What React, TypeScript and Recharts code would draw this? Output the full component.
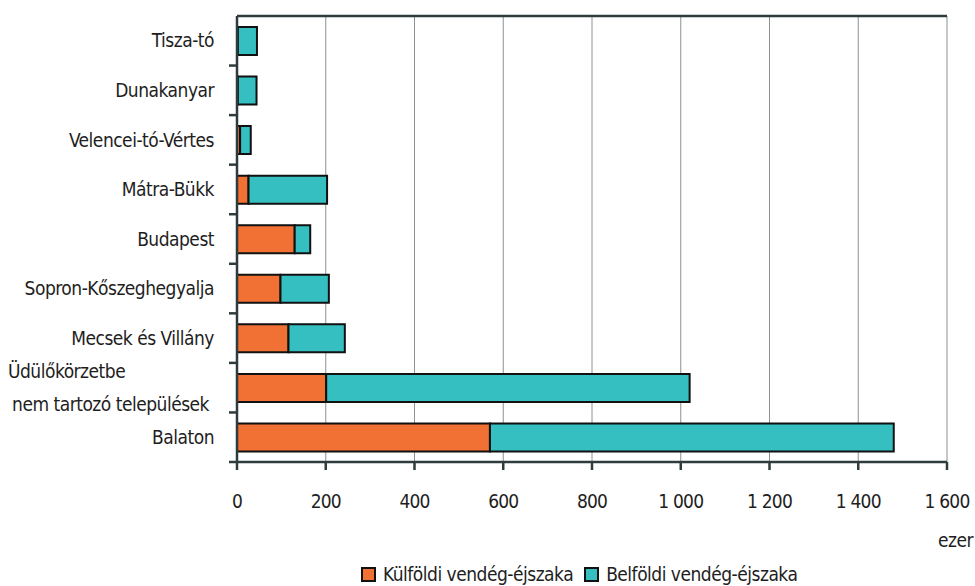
import {
  BarChart,
  Bar,
  XAxis,
  YAxis,
  CartesianGrid,
  Legend,
} from "recharts";

const FONT = "'Liberation Sans Narrow', 'Arial Narrow', 'DejaVu Sans Condensed', sans-serif";

// categories, top to bottom
const regions = [
  "Tisza-tó",
  "Dunakanyar",
  "Velencei-tó-Vértes",
  "Mátra-Bükk",
  "Budapest",
  "Sopron-Kőszeghegyalja",
  "Mecsek és Villány",
  "Üdülőkörzetbe nem tartozó települések",
  "Balaton",
];

// ezer vendégéjszaka
const kulfoldi = [2, 2, 7, 26, 130, 98, 116, 201, 570];
const belfoldi = [43, 42, 24, 177, 35, 109, 127, 819, 910];

const xTicks = [0, 200, 400, 600, 800, 1000, 1200, 1400, 1600];

const data = regions.map((name, i) => ({
  name,
  kulfoldi: kulfoldi[i],
  belfoldi: belfoldi[i],
}));

const ORANGE = "#F07133";
const TEAL = "#35BFC1";
const AXIS = "#2E3C3C";
const TEXT = "#1E1E1E";
const FS = 19;
const LS = -0.5;

const BAND = 446 / regions.length;

function CategoryTick(props: any) {
  const { x, y, payload } = props;
  const label: string = payload.value;
  const tickLine = (
    <line x1={x + 14} x2={x + 22} y1={y + BAND / 2} y2={y + BAND / 2} stroke={AXIS} strokeWidth={2.5} />
  );
  const common = { fontSize: FS, fill: TEXT, fontFamily: FONT, letterSpacing: LS };
  if (label.startsWith("Üdülő")) {
    return (
      <g>
        {tickLine}
        <text x={8} y={y - 16} dy="0.35em" textAnchor="start" {...common}>
          Üdülőkörzetbe
        </text>
        <text x={x - 6} y={y + 17} dy="0.35em" textAnchor="end" {...common}>
          nem tartozó települések
        </text>
      </g>
    );
  }
  return (
    <g>
      {tickLine}
      <text x={x - 1} y={y} dy="0.35em" textAnchor="end" {...common}>
        {label}
      </text>
    </g>
  );
}

const fmt = (v: number) => String(v).replace(/\B(?=(\d{3})+(?!\d))/g, " ");

function LegendContent() {
  const items = [
    { label: "Külföldi vendég-éjszaka", color: ORANGE },
    { label: "Belföldi vendég-éjszaka", color: TEAL },
  ];
  return (
    <div
      style={{
        display: "flex",
        alignItems: "center",
        height: 24,
        fontFamily: FONT,
        fontSize: FS,
        letterSpacing: LS,
        color: TEXT,
        paddingLeft: 361,
      }}
    >
      {items.map((it) => (
        <span key={it.label} style={{ display: "flex", alignItems: "center", marginRight: 11 }}>
          <span
            style={{
              width: 11,
              height: 11,
              background: it.color,
              border: "2px solid #111",
              marginRight: 7,
              display: "inline-block",
            }}
          />
          {it.label}
        </span>
      ))}
    </div>
  );
}

export default function App() {
  return (
    <div style={{ position: "absolute", left: 0, top: 0, background: "#fff" }}>
      <BarChart
        width={975}
        height={586}
        data={data}
        layout="vertical"
        margin={{ top: 15, right: 28, left: 0, bottom: 0 }}
        barSize={28}
      >
        <CartesianGrid horizontal={false} stroke="#8A9292" strokeWidth={1} />
        <XAxis
          type="number"
          domain={[0, 1600]}
          ticks={xTicks}
          tickFormatter={fmt}
          height={100}
          axisLine={{ stroke: AXIS, strokeWidth: 2.5 }}
          tickLine={{ stroke: AXIS, strokeWidth: 2.5 }}
          tickSize={8}
          tickMargin={25}
          tick={{ fontSize: FS, fill: TEXT, fontFamily: FONT, letterSpacing: -0.8 }}
          interval={0}
          label={{
            content: (p: any) => (
              <text
                x={p.viewBox.x + p.viewBox.width + 26}
                y={p.viewBox.y + 85}
                textAnchor="end"
                fontSize={FS}
                fill={TEXT}
                fontFamily={FONT}
                letterSpacing={LS}
              >
                ezer
              </text>
            ),
          }}
        />
        <XAxis
          xAxisId="top"
          orientation="top"
          type="number"
          domain={[0, 1600]}
          height={1}
          tick={false}
          tickLine={false}
          axisLine={{ stroke: AXIS, strokeWidth: 2.5 }}
        />
        <YAxis
          type="category"
          dataKey="name"
          width={237}
          axisLine={{ stroke: AXIS, strokeWidth: 2.5 }}
          tickLine={false}
          tickSize={0}
          tick={<CategoryTick />}
          tickMargin={22}
          interval={0}
        />
        <YAxis
          yAxisId="right"
          orientation="right"
          type="category"
          dataKey="name"
          width={0}
          tick={false}
          tickLine={false}
          axisLine={{ stroke: AXIS, strokeWidth: 2.5 }}
        />
        <Legend verticalAlign="bottom" height={24} content={<LegendContent />} />
        <Bar dataKey="kulfoldi" stackId="a" fill={ORANGE} stroke="#111" strokeWidth={2} isAnimationActive={false} />
        <Bar dataKey="belfoldi" stackId="a" fill={TEAL} stroke="#111" strokeWidth={2} isAnimationActive={false} />
      </BarChart>
    </div>
  );
}
